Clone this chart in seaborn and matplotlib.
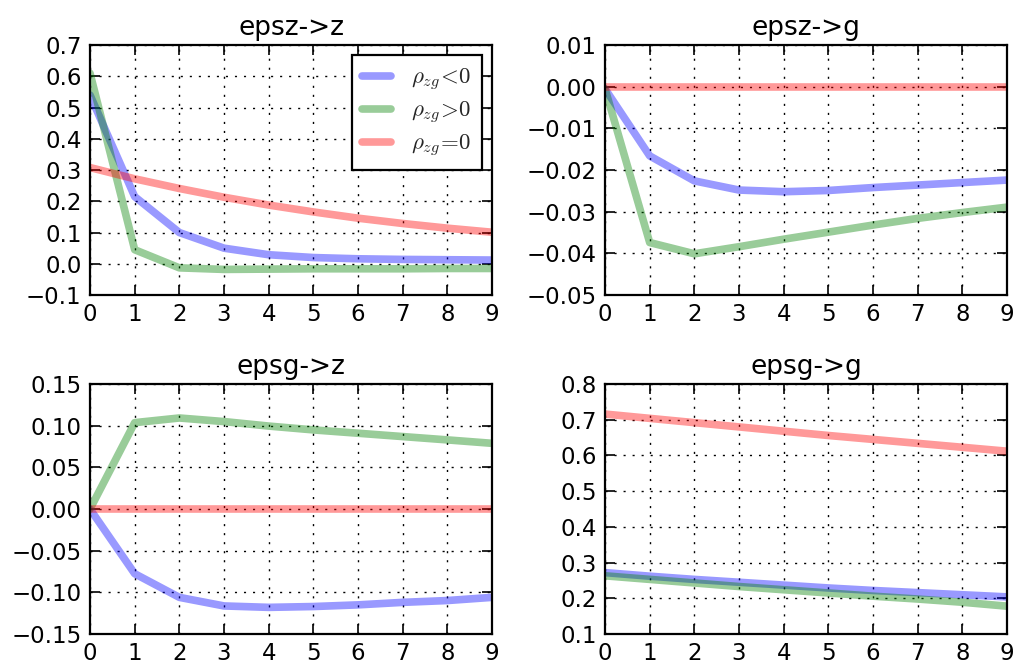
import numpy as np
import pandas as pd
import matplotlib
matplotlib.use("Agg")
import matplotlib.pyplot as plt
import seaborn as sns

periods = list(range(10))
labels = [r"$\rho_{zg}\!<\!0$", r"$\rho_{zg}\!>\!0$", r"$\rho_{zg}\!=\!0$"]
titles = ["epsz->z", "epsz->g", "epsg->z", "epsg->g"]

# epsz -> z
epsz_z_neg = [0.54, 0.215, 0.10, 0.05, 0.029, 0.020, 0.016, 0.014, 0.013, 0.012]
epsz_z_pos = [0.61, 0.045, -0.013, -0.018, -0.017, -0.016, -0.016, -0.016, -0.015, -0.015]
epsz_z_zero = [0.308, 0.272, 0.241, 0.213, 0.188, 0.166, 0.146, 0.129, 0.114, 0.101]
# epsz -> g
epsz_g_neg = [-0.0005, -0.0166, -0.0226, -0.0248, -0.0252, -0.0249, -0.0242, -0.0236, -0.0230, -0.0224]
epsz_g_pos = [-0.0005, -0.0374, -0.0401, -0.0384, -0.0366, -0.0349, -0.0332, -0.0316, -0.0302, -0.0289]
epsz_g_zero = [0.0, 0.0, 0.0, 0.0, 0.0, 0.0, 0.0, 0.0, 0.0, 0.0]
# epsg -> z
epsg_z_neg = [0.0, -0.0776, -0.106, -0.1163, -0.118, -0.117, -0.115, -0.112, -0.1098, -0.106]
epsg_z_pos = [0.0, 0.1037, 0.1093, 0.105, 0.0996, 0.095, 0.091, 0.087, 0.083, 0.0789]
epsg_z_zero = [0.0, 0.0, 0.0, 0.0, 0.0, 0.0, 0.0, 0.0, 0.0, 0.0]
# epsg -> g
epsg_g_neg = [0.272, 0.262, 0.253, 0.245, 0.237, 0.229, 0.222, 0.216, 0.210, 0.204]
epsg_g_pos = [0.263, 0.253, 0.243, 0.233, 0.224, 0.215, 0.206, 0.198, 0.189, 0.178]
epsg_g_zero = [0.716, 0.704, 0.692, 0.680, 0.668, 0.656, 0.645, 0.634, 0.623, 0.612]

ylims = [(-0.1, 0.7), (-0.05, 0.01), (-0.15, 0.15), (0.1, 0.8)]
yticks = [np.arange(-0.1, 0.71, 0.1), np.arange(-0.05, 0.011, 0.01),
          np.arange(-0.15, 0.151, 0.05), np.arange(0.1, 0.81, 0.1)]
yfmt = ["%.1f", "%.2f", "%.2f", "%.1f"]

panels = [
    (epsz_z_neg, epsz_z_pos, epsz_z_zero),
    (epsz_g_neg, epsz_g_pos, epsz_g_zero),
    (epsg_z_neg, epsg_z_pos, epsg_z_zero),
    (epsg_g_neg, epsg_g_pos, epsg_g_zero),
]

sns.set_style("ticks")
plt.rcParams["mathtext.fontset"] = "cm"
plt.rcParams["font.family"] = ["DejaVu Sans"]

colors = [(0, 0, 1), (0, 0.5, 0), (1, 0, 0)]

fig = plt.figure(figsize=(10.16, 6.63), dpi=100)
lefts = [0.0886, 0.5955]
bottoms = [0.555, 0.0437]
w = 0.3957
h = 0.377

for i, (series, title) in enumerate(zip(panels, titles)):
    r, c = divmod(i, 2)
    ax = fig.add_axes([lefts[c], bottoms[r], w, h])
    for s, col, lab in zip(series, colors, labels):
        df = pd.DataFrame({"t": periods, "v": s})
        sns.lineplot(data=df, x="t", y="v", ax=ax, color=col, alpha=0.4,
                     lw=5.5, label=lab if i == 0 else None, legend=False)
    ax.set_xlim(0, 9)
    ax.set_ylim(*ylims[i])
    ax.set_xticks(periods)
    ax.set_yticks(yticks[i])
    ax.set_yticklabels([(yfmt[i] % v).replace("-", "\u2212") for v in yticks[i]])
    ax.set_xlabel("")
    ax.set_ylabel("")
    ax.set_title(title, fontsize=19, pad=7, color="k")
    ax.grid(True, color="k", linestyle=(0, (1.5, 5)), linewidth=1.0)
    ax.tick_params(direction="in", top=True, right=True, length=7, width=1.2,
                   labelsize=16.5, pad=6, colors="k")
    for sp in ax.spines.values():
        sp.set_linewidth(1.6)
        sp.set_color("k")
    if i == 0:
        leg = ax.legend(loc="upper right", fontsize=16.5, handlelength=1.25,
                        frameon=True, fancybox=False, borderpad=0.45,
                        labelspacing=0.28, handletextpad=0.9, borderaxespad=0.45)
        leg.get_frame().set_edgecolor("k")
        leg.get_frame().set_linewidth(1.6)
        leg.get_frame().set_alpha(1)

fig.savefig("out.png", dpi=100)
